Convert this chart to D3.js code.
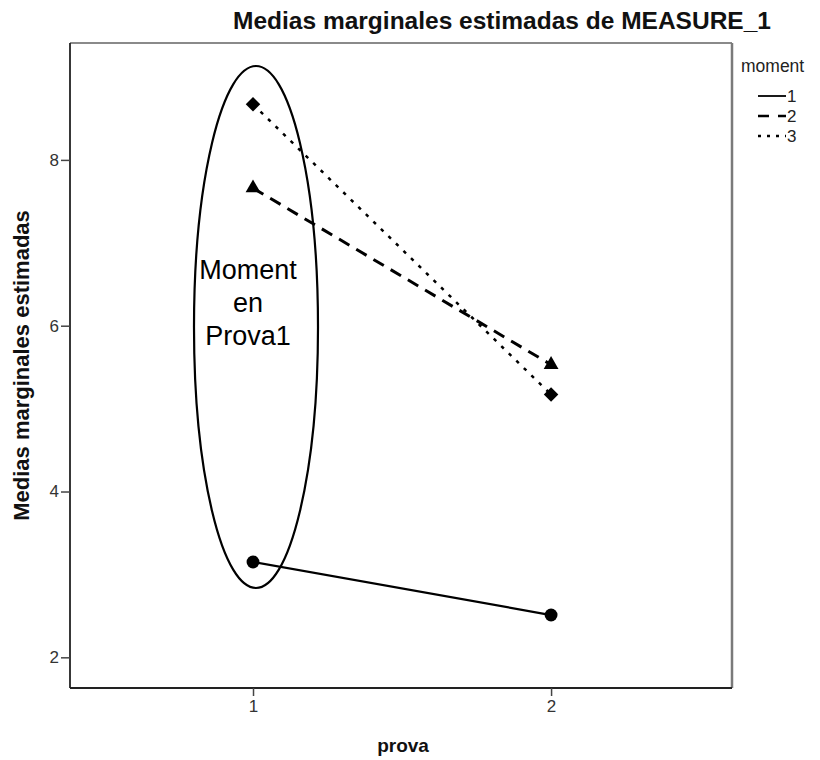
<!DOCTYPE html>
<html>
<head>
<meta charset="utf-8">
<script src="https://cdn.jsdelivr.net/npm/d3@7"></script>
<style>
  body { margin: 0; background: #fff; }
  svg { display: block; font-family: "Liberation Sans", Arial, sans-serif; }
</style>
</head>
<body>
<svg id="chart" width="820" height="760"></svg>
<script>
// Estimated marginal means by test (prova) and moment
const provaLevels = [1, 2];
const moments = ["1", "2", "3"];
const moment1 = [3.15, 2.51];
const moment2 = [7.66, 5.53];
const moment3 = [8.67, 5.17];
const yTicks = [2, 4, 6, 8];
const noteLines = ["Moment", "en", "Prova1"];

const seriesValues = [moment1, moment2, moment3];
const series = moments.map((m, i) => ({
  key: m,
  values: provaLevels.map((p, j) => ({ prova: p, value: seriesValues[i][j] }))
}));

const styles = {
  "1": { dash: null, width: 2.2, marker: d3.symbolCircle, size: 130, rotate: 0 },
  "2": { dash: "12,8", width: 3, marker: d3.symbolTriangle, size: 95, rotate: 0 },
  "3": { dash: "3.5,7", width: 2.5, marker: d3.symbolSquare, size: 105, rotate: 45 }
};

const svg = d3.select("#chart");
const plot = { left: 70, right: 732, top: 43, bottom: 688 };

const x = d3.scaleLinear().domain([0.386, 2.607]).range([plot.left, plot.right]);
const y = d3.scaleLinear().domain([1.63, 9.41]).range([plot.bottom, plot.top]);

// Title
svg.append("text")
  .attr("x", 502).attr("y", 29)
  .attr("text-anchor", "middle")
  .attr("font-size", 24.5).attr("font-weight", "bold").attr("fill", "#111")
  .text("Medias marginales estimadas de MEASURE_1");

// Frame
svg.append("line").attr("x1", plot.left).attr("x2", plot.right).attr("y1", plot.top).attr("y2", plot.top)
  .attr("stroke", "#8a8a8a").attr("stroke-width", 2);
svg.append("line").attr("x1", plot.right).attr("x2", plot.right).attr("y1", plot.top).attr("y2", plot.bottom)
  .attr("stroke", "#7a7a7a").attr("stroke-width", 2.5);

// Axes
const xAxis = d3.axisBottom(x).tickValues(provaLevels).tickFormat(d3.format("d")).tickSize(8).tickSizeOuter(0);
const yAxis = d3.axisLeft(y).tickValues(yTicks).tickFormat(d3.format("d")).tickSize(9).tickSizeOuter(0);

const gx = svg.append("g").attr("transform", `translate(0,${plot.bottom})`).call(xAxis);
gx.select(".domain").attr("d", `M${plot.left},0H${plot.right}`).attr("stroke", "#222").attr("stroke-width", 1.8);
gx.selectAll(".tick line").attr("stroke", "#444").attr("stroke-width", 1.5);
gx.selectAll(".tick text").attr("font-size", 17).attr("fill", "#333").attr("y", 12).attr("dy", "0.71em")
  .style("font-family", "Liberation Sans, Arial, sans-serif");

const gy = svg.append("g").attr("transform", `translate(${plot.left},0)`).call(yAxis);
gy.select(".domain").attr("d", `M0,${plot.top}V${plot.bottom}`).attr("stroke", "#222").attr("stroke-width", 1.8);
gy.selectAll(".tick line").attr("stroke", "#444").attr("stroke-width", 1.5);
gy.selectAll(".tick text").attr("font-size", 17).attr("fill", "#333").attr("x", -11)
  .style("font-family", "Liberation Sans, Arial, sans-serif");

// Axis titles
svg.append("text")
  .attr("x", (plot.left + plot.right) / 2 + 2).attr("y", 752)
  .attr("text-anchor", "middle").attr("font-size", 19).attr("font-weight", "bold").attr("fill", "#111")
  .text("prova");
svg.append("text")
  .attr("transform", `translate(29,${(plot.top + plot.bottom) / 2}) rotate(-90)`)
  .attr("text-anchor", "middle").attr("font-size", 22).attr("font-weight", "bold").attr("fill", "#111")
  .text("Medias marginales estimadas");

// Lines and markers
const line = d3.line().x(d => x(d.prova)).y(d => y(d.value));
const gSeries = svg.append("g").selectAll("g").data(series).join("g");
gSeries.append("path")
  .attr("d", d => line(d.values))
  .attr("fill", "none").attr("stroke", "#000")
  .attr("stroke-width", d => styles[d.key].width)
  .attr("stroke-dasharray", d => styles[d.key].dash);
gSeries.selectAll("path.marker").data(d => d.values.map(v => ({ ...v, key: d.key })))
  .join("path").attr("class", "marker")
  .attr("transform", d => `translate(${x(d.prova)},${y(d.value)}) rotate(${styles[d.key].rotate})`)
  .attr("d", d => d3.symbol().type(styles[d.key].marker).size(styles[d.key].size)())
  .attr("fill", "#000");

// Annotation ellipse around prova 1
const note = svg.append("g");
note.append("ellipse")
  .attr("cx", 256).attr("cy", 327).attr("rx", 62).attr("ry", 261)
  .attr("fill", "none").attr("stroke", "#000").attr("stroke-width", 2.2);
note.selectAll("text").data(noteLines).join("text")
  .attr("x", 248).attr("y", (d, i) => 279 + i * 33)
  .attr("text-anchor", "middle").attr("font-size", 27).attr("fill", "#000")
  .text(d => d);

// Legend
const legend = svg.append("g");
legend.append("text").attr("x", 741).attr("y", 72)
  .attr("font-size", 17.5).attr("fill", "#222").text("moment");
const items = legend.selectAll("g.item").data(moments).join("g").attr("class", "item")
  .attr("transform", (d, i) => `translate(0,${96 + i * 20})`);
items.append("line").attr("x1", 758).attr("x2", 786).attr("y1", 0).attr("y2", 0)
  .attr("stroke", "#000")
  .attr("stroke-width", d => d === "1" ? 1.8 : 2.6)
  .attr("stroke-dasharray", d => d === "1" ? null : (d === "2" ? "11,9" : "3,6"));
items.append("text").attr("x", 787).attr("y", 6)
  .attr("font-size", 17).attr("fill", "#222").text(d => d);
</script>
</body>
</html>
